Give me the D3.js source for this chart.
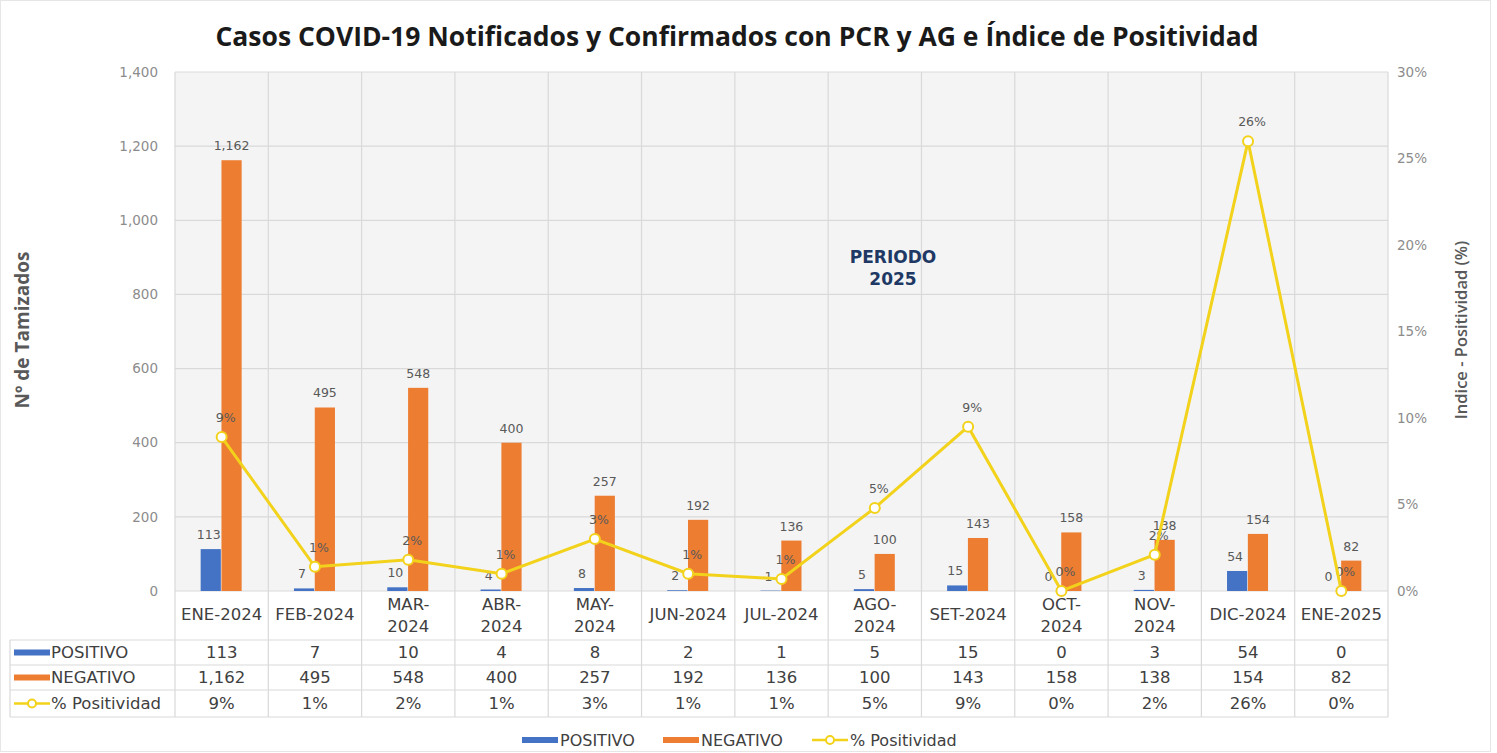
<!DOCTYPE html>
<html lang="es">
<head>
<meta charset="UTF-8">
<title>Casos COVID-19</title>
<script src="https://cdnjs.cloudflare.com/ajax/libs/d3/7.8.5/d3.min.js"></script>
<style>
  body { margin: 0; background: #fff; }
  svg text { font-family: "DejaVu Sans", sans-serif; }
</style>
</head>
<body>
<svg id="chart" width="1497" height="753"></svg>
<script>
// data
const categories = ["ENE-2024", "FEB-2024", "MAR-\n2024", "ABR-\n2024", "MAY-\n2024", "JUN-2024",
  "JUL-2024", "AGO-\n2024", "SET-2024", "OCT-\n2024", "NOV-\n2024", "DIC-2024", "ENE-2025"];
const positivo = [113, 7, 10, 4, 8, 2, 1, 5, 15, 0, 3, 54, 0];
const negativo = [1162, 495, 548, 400, 257, 192, 136, 100, 143, 158, 138, 154, 82];
const positividad = [8.9, 1.4, 1.8, 1.0, 3.0, 1.0, 0.7, 4.8, 9.5, 0, 2.1, 26.0, 0];
const positividadLabel = ["9%", "1%", "2%", "1%", "3%", "1%", "1%", "5%", "9%", "0%", "2%", "26%", "0%"];
const leftTicks = [0, 200, 400, 600, 800, 1000, 1200, 1400];
const rightTicks = [0, 5, 10, 15, 20, 25, 30];

const cBlue = "#4472c4", cOrange = "#ed7d31", cYellow = "#f2d21b";
const grid = "#d9d9d9", txt = "#404040";

const svg = d3.select("#chart");
const pL = 175, pR = 1388, pT = 72, pB = 591;

svg.append("rect").attr("x", 0.5).attr("y", 0.5).attr("width", 1490).attr("height", 751)
  .attr("fill", "#fff").attr("stroke", "#e6e6e6");

const x = d3.scaleBand().domain(d3.range(categories.length)).range([pL, pR]);
const inner = d3.scaleBand().domain(["p", "n"]).range([x.bandwidth() / 2 - 21, x.bandwidth() / 2 + 20]).paddingInner(0.03);
const y = d3.scaleLinear().domain([0, 1400]).range([pB, pT]);
const y2 = d3.scaleLinear().domain([0, 30]).range([pB, pT]);

// plot background
svg.append("rect").attr("x", pL).attr("y", pT).attr("width", pR - pL).attr("height", pB - pT)
  .attr("fill", "#f4f4f4");

// horizontal grid
svg.append("g").selectAll("line").data(leftTicks).join("line")
  .attr("x1", pL).attr("x2", pR).attr("y1", d => y(d)).attr("y2", d => y(d))
  .attr("stroke", grid).attr("stroke-width", 1.2);

// vertical grid lines, continued through the data table
const bounds = d3.range(categories.length + 1).map(i => i < categories.length ? x(i) : pR);
svg.append("g").selectAll("line").data(bounds).join("line")
  .attr("x1", d => d).attr("x2", d => d).attr("y1", pT).attr("y2", 717)
  .attr("stroke", grid).attr("stroke-width", 1.2);

// left axis labels
svg.append("g").selectAll("text").data(leftTicks).join("text")
  .attr("x", 158).attr("y", d => y(d)).attr("dy", "0.35em").attr("text-anchor", "end")
  .attr("fill", "#8c8c8c").attr("font-size", 13.5)
  .text(d => d3.format(",")(d));

// right axis labels
svg.append("g").selectAll("text").data(rightTicks).join("text")
  .attr("x", 1397).attr("y", d => y2(d)).attr("dy", "0.35em")
  .attr("fill", "#8c8c8c").attr("font-size", 13.5)
  .text(d => d + "%");

// axis titles
svg.append("text").attr("transform", "translate(29,330) rotate(-90)").attr("text-anchor", "middle")
  .attr("fill", "#595959").attr("font-size", 19).attr("font-weight", "bold")
  .style("font-family", "'Open Sans', sans-serif").text("Nº de Tamizados");
svg.append("text").attr("transform", "translate(1467,330) rotate(-90)").attr("text-anchor", "middle")
  .attr("fill", "#595959").attr("font-size", 16.5).attr("font-weight", 600)
  .style("font-family", "'Open Sans', sans-serif").text("Indice - Positividad (%)");

// title
svg.append("text").attr("x", 737).attr("y", 46).attr("text-anchor", "middle")
  .attr("fill", "#1a1a1a").attr("font-size", 26.5).attr("font-weight", "bold")
  .style("font-family", "'Open Sans', sans-serif")
  .text("Casos COVID-19 Notificados y Confirmados con PCR y AG e Índice de Positividad");

// PERIODO 2025
svg.append("text").attr("x", 893).attr("y", 263).attr("text-anchor", "middle")
  .attr("fill", "#203864").attr("font-size", 17).attr("font-weight", "bold")
  .selectAll("tspan").data(["PERIODO", "2025"]).join("tspan")
  .attr("x", 893).attr("dy", (d, i) => i ? 22 : 0).text(d => d);

// bars
const bars = svg.append("g");
bars.selectAll(".pos").data(positivo).join("rect").attr("class", "pos")
  .attr("x", (d, i) => x(i) + inner("p")).attr("width", inner.bandwidth())
  .attr("y", d => y(d)).attr("height", d => pB - y(d)).attr("fill", cBlue);
bars.selectAll(".neg").data(negativo).join("rect").attr("class", "neg")
  .attr("x", (d, i) => x(i) + inner("n")).attr("width", inner.bandwidth())
  .attr("y", d => y(d)).attr("height", d => pB - y(d)).attr("fill", cOrange);

// bar labels
const lbl = svg.append("g").attr("fill", "#595959").attr("font-size", 12.5).attr("text-anchor", "middle");
lbl.selectAll(".pl").data(positivo).join("text").attr("class", "pl")
  .attr("x", (d, i) => x(i) + inner("p") + inner.bandwidth() / 2 - 2).attr("y", d => y(d) - 10)
  .text(d => d3.format(",")(d));
lbl.selectAll(".nl").data(negativo).join("text").attr("class", "nl")
  .attr("x", (d, i) => x(i) + inner("n") + inner.bandwidth() / 2).attr("y", d => y(d) - 10)
  .text(d => d3.format(",")(d));

// positivity line
const cx = i => x(i) + x.bandwidth() / 2;
svg.append("path").datum(positividad)
  .attr("d", d3.line().x((d, i) => cx(i)).y(d => y2(d)))
  .attr("fill", "none").attr("stroke", cYellow).attr("stroke-width", 3);
svg.append("g").selectAll("circle").data(positividad).join("circle")
  .attr("cx", (d, i) => cx(i)).attr("cy", d => y2(d)).attr("r", 5)
  .attr("fill", "#fff").attr("stroke", cYellow).attr("stroke-width", 2);
lbl.selectAll(".ql").data(positividad).join("text").attr("class", "ql")
  .attr("x", (d, i) => cx(i) + 4).attr("y", d => y2(d) - 15)
  .text((d, i) => positividadLabel[i]);

// data table
const rowY = [640, 665, 690, 717];
const table = svg.append("g").attr("fill", txt).attr("font-size", 16.5).attr("text-anchor", "middle");
svg.append("g").selectAll("line").data(rowY).join("line")
  .attr("x1", 10).attr("x2", pR).attr("y1", d => d).attr("y2", d => d)
  .attr("stroke", grid).attr("stroke-width", 1.2);
svg.append("line").attr("x1", 10).attr("x2", 10).attr("y1", 640).attr("y2", 717)
  .attr("stroke", grid).attr("stroke-width", 1.2);

// category header
categories.forEach((c, i) => {
  const lines = c.split("\n");
  const t = table.append("text").attr("x", cx(i)).attr("y", lines.length > 1 ? 610 : 620);
  lines.forEach((l, k) => t.append("tspan").attr("x", cx(i)).attr("dy", k ? 22 : 0).text(l));
});

const rows = [
  { name: "POSITIVO", vals: positivo.map(d3.format(",")) },
  { name: "NEGATIVO", vals: negativo.map(d3.format(",")) },
  { name: "% Positividad", vals: positividadLabel }
];
rows.forEach((r, k) => {
  const ym = (rowY[k] + rowY[k + 1]) / 2;
  r.vals.forEach((v, i) => table.append("text").attr("x", cx(i)).attr("y", ym).attr("dy", "0.36em").text(v));
  table.append("text").attr("x", 51).attr("y", ym).attr("dy", "0.36em").attr("text-anchor", "start").text(r.name);
});

function legendKey(g, kx, ky, type, color) {
  if (type === "line") {
    g.append("line").attr("x1", kx).attr("x2", kx + 36).attr("y1", ky).attr("y2", ky)
      .attr("stroke", color).attr("stroke-width", 2.5);
    g.append("circle").attr("cx", kx + 18).attr("cy", ky).attr("r", 4)
      .attr("fill", "#fff").attr("stroke", color).attr("stroke-width", 2);
  } else {
    g.append("rect").attr("x", kx).attr("y", ky - 3).attr("width", 36).attr("height", 6).attr("fill", color);
  }
}
const keyG = svg.append("g");
legendKey(keyG, 14, 652.5, "bar", cBlue);
legendKey(keyG, 14, 677.5, "bar", cOrange);
legendKey(keyG, 14, 703.5, "line", cYellow);

// bottom legend
const legendItems = [
  { name: "POSITIVO", type: "bar", color: cBlue, x: 522 },
  { name: "NEGATIVO", type: "bar", color: cOrange, x: 663 },
  { name: "% Positividad", type: "line", color: cYellow, x: 812 }
];
const leg = svg.append("g").attr("fill", txt).attr("font-size", 16);
legendItems.forEach(it => {
  legendKey(leg, it.x, 740, it.type, it.color);
  leg.append("text").attr("x", it.x + 38).attr("y", 740).attr("dy", "0.36em").text(it.name);
});
</script>
</body>
</html>
